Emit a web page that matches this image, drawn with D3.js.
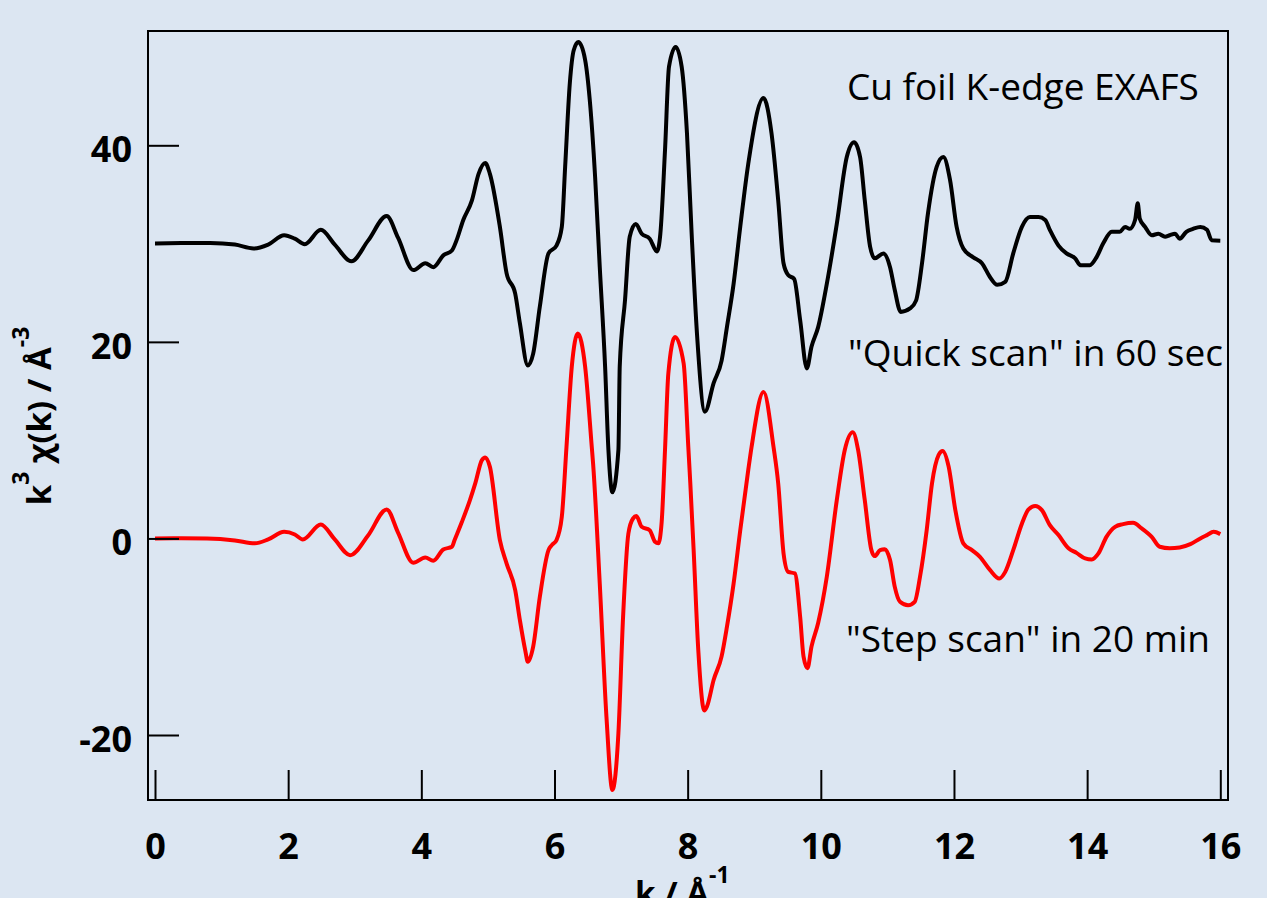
<!DOCTYPE html>
<meta charset="utf-8">
<title>Cu foil K-edge EXAFS</title>
<style type="text/css">
body {
  margin: 0;
  background: #dce6f2;
}
svg {
  display: block;
  font-family: "Open Sans", sans-serif;
}
.axis text {
  font-family: "Open Sans", sans-serif;
  font-size: 36px;
  font-weight: bold;
  fill: #000;
}
.axis line {
  stroke: #000;
  stroke-width: 2;
}
.note {
  font-size: 37px;
  fill: #000;
}
</style>
<script src="https://cdn.jsdelivr.net/npm/d3@7"></script>
<body>
<script>
var width = 1267;
var height = 898;
// plot frame
var frameL = 148, frameR = 1228, frameT = 31, frameB = 800;

var xTicks = [0, 2, 4, 6, 8, 10, 12, 14, 16];
var yTicks = [-20, 0, 20, 40];

// "Quick scan" in 60 sec (black, offset +30)
var quickK = [0, 0.4, 0.83, 1.2, 1.48, 1.7, 1.94, 2.1, 2.25, 2.49, 2.7, 2.95, 3.2, 3.48, 3.65, 3.88, 4.06, 4.18, 4.33, 4.46, 4.53, 4.63, 4.76, 4.86, 4.96, 5.03, 5.18, 5.28, 5.41, 5.48, 5.6, 5.68, 5.78, 5.91, 6.03, 6.11, 6.16, 6.23, 6.29, 6.36, 6.46, 6.53, 6.61, 6.68, 6.76, 6.81, 6.87, 6.96, 6.98, 7.06, 7.13, 7.22, 7.31, 7.43, 7.54, 7.59, 7.66, 7.72, 7.82, 7.91, 7.99, 8.06, 8.14, 8.26, 8.39, 8.51, 8.59, 8.69, 8.79, 8.91, 9.14, 9.26, 9.36, 9.44, 9.51, 9.6, 9.69, 9.79, 9.86, 9.96, 10.09, 10.24, 10.39, 10.5, 10.59, 10.66, 10.74, 10.81, 10.94, 11.04, 11.11, 11.2, 11.34, 11.43, 11.52, 11.61, 11.74, 11.84, 11.94, 12.04, 12.14, 12.29, 12.42, 12.54, 12.65, 12.77, 12.89, 13.02, 13.14, 13.27, 13.37, 13.44, 13.57, 13.69, 13.82, 13.9, 14.04, 14.14, 14.24, 14.37, 14.49, 14.57, 14.64, 14.72, 14.76, 14.79, 14.87, 14.97, 15.07, 15.17, 15.24, 15.32, 15.39, 15.49, 15.59, 15.7, 15.8, 15.87, 16.0];
var quickChi = [30.0, 30.05, 30.07, 29.9, 29.5, 29.9, 30.85, 30.5, 29.94, 31.4, 29.9, 28.2, 30.3, 32.8, 30.6, 27.3, 28.0, 27.6, 28.8, 29.3, 30.35, 32.4, 34.4, 37.1, 38.2, 37.1, 31.7, 27.0, 24.9, 21.9, 17.6, 18.8, 23.6, 29.0, 29.8, 31.7, 37.8, 46.3, 49.7, 50.5, 48.7, 44.6, 36.8, 27.6, 17.5, 9.0, 4.7, 9.0, 17.5, 24.3, 30.7, 32.0, 31.0, 30.5, 29.2, 31.0, 39.5, 48.0, 50.0, 48.0, 41.2, 31.0, 20.85, 12.9, 15.8, 18.1, 21.5, 25.9, 31.7, 38.1, 44.8, 41.2, 34.4, 28.0, 26.8, 26.4, 22.2, 17.3, 19.5, 21.5, 25.9, 32.0, 38.8, 40.3, 38.8, 34.4, 29.7, 28.5, 29.0, 27.6, 25.3, 23.05, 23.4, 24.2, 28.0, 33.1, 37.8, 38.8, 36.5, 31.7, 29.5, 28.6, 28.0, 26.6, 25.8, 26.1, 29.0, 31.7, 32.7, 32.7, 32.4, 31.4, 29.8, 29.0, 28.5, 27.8, 27.8, 28.6, 30.0, 31.2, 31.2, 31.7, 31.5, 32.4, 34.1, 32.55, 31.7, 30.85, 31.0, 30.7, 30.85, 31.0, 30.5, 31.2, 31.5, 31.7, 31.4, 30.35, 30.3];

// "Step scan" in 20 min (red)
var stepK = [0, 0.4, 0.78, 1.2, 1.5, 1.7, 1.94, 2.1, 2.22, 2.49, 2.7, 2.93, 3.2, 3.48, 3.65, 3.88, 4.06, 4.18, 4.33, 4.46, 4.5, 4.61, 4.73, 4.81, 4.91, 4.96, 5.03, 5.18, 5.28, 5.41, 5.48, 5.56, 5.6, 5.68, 5.78, 5.91, 5.96, 6.03, 6.11, 6.18, 6.26, 6.35, 6.46, 6.56, 6.58, 6.68, 6.78, 6.87, 6.96, 7.03, 7.11, 7.18, 7.23, 7.31, 7.43, 7.51, 7.56, 7.61, 7.66, 7.71, 7.81, 7.94, 8.01, 8.04, 8.09, 8.16, 8.25, 8.29, 8.39, 8.51, 8.59, 8.69, 8.79, 8.91, 8.96, 9.14, 9.29, 9.36, 9.44, 9.51, 9.61, 9.69, 9.74, 9.8, 9.86, 9.96, 10.09, 10.24, 10.36, 10.48, 10.56, 10.66, 10.76, 10.81, 10.89, 10.96, 11.04, 11.11, 11.19, 11.31, 11.41, 11.49, 11.59, 11.67, 11.77, 11.83, 11.92, 12.02, 12.14, 12.27, 12.39, 12.54, 12.68, 12.77, 12.89, 13.02, 13.12, 13.22, 13.32, 13.44, 13.57, 13.72, 13.84, 13.97, 14.07, 14.17, 14.29, 14.42, 14.54, 14.69, 14.82, 14.97, 15.09, 15.24, 15.39, 15.55, 15.7, 15.8, 15.9, 16.0];
var stepChi = [0, 0.02, 0.0, -0.2, -0.5, -0.1, 0.67, 0.4, -0.1, 1.42, -0.1, -1.7, 0.3, 2.95, 0.6, -2.48, -1.93, -2.27, -1.12, -0.85, -0.17, 1.69, 3.9, 5.6, 7.97, 8.24, 7.28, -0.17, -2.54, -5.26, -8.3, -11.36, -12.55, -11.0, -5.94, -1.19, -0.68, -0.17, 2.2, 9.3, 17.5, 20.85, 17.5, 9.3, 7.6, -4.6, -18.1, -25.6, -19.8, -8.0, 0.5, 2.03, 2.27, 1.18, 0.84, -0.34, -0.5, 1.69, 9.0, 16.8, 20.5, 17.8, 9.3, 5.6, -1.19, -11.4, -17.5, -17.1, -14.4, -12.0, -9.0, -4.6, 0.84, 6.95, 9.3, 14.9, 9.3, 5.6, -1.5, -3.4, -3.56, -8.0, -12.0, -13.2, -11.0, -8.6, -3.9, 3.9, 9.0, 10.8, 9.0, 3.9, -1.19, -1.8, -1.19, -1.1, -2.2, -4.9, -6.45, -6.8, -6.45, -3.9, 0.84, 5.6, 8.5, 8.9, 7.3, 2.9, -0.5, -1.19, -1.87, -3.2, -4.07, -3.4, -1.19, 1.5, 2.95, 3.29, 2.88, 1.35, 0.34, -1.0, -1.47, -2.03, -2.14, -1.53, 0.16, 1.18, 1.45, 1.59, 1.02, 0.16, -0.85, -1.0, -0.92, -0.58, 0.0, 0.34, 0.67, 0.44];

var svg = d3.select('body').append('svg').attr('width', width).attr('height', height);

var xScale = d3.scaleLinear().domain([0, 16]).range([155, 1220.3]);
var yScale = d3.scaleLinear().domain([-20, 40]).range([735, 145.3]);

var line = d3.line()
  .x(function(d) { return xScale(d[0]); })
  .y(function(d) { return yScale(d[1]); })
  .curve(d3.curveMonotoneX);

svg.append('path')
  .datum(d3.zip(quickK, quickChi))
  .attr('d', line)
  .attr('fill', 'none')
  .attr('stroke', '#000')
  .attr('stroke-width', 4)
  .attr('stroke-linejoin', 'round');

svg.append('path')
  .datum(d3.zip(stepK, stepChi))
  .attr('d', line)
  .attr('fill', 'none')
  .attr('stroke', '#ff0000')
  .attr('stroke-width', 4)
  .attr('stroke-linejoin', 'round');

// frame
svg.append('rect')
  .attr('x', frameL).attr('y', frameT)
  .attr('width', frameR - frameL).attr('height', frameB - frameT)
  .attr('fill', 'none')
  .attr('stroke', '#000')
  .attr('stroke-width', 2);

var xAxis = svg.append('g')
  .attr('class', 'axis')
  .attr('transform', 'translate(0,' + frameB + ')')
  .call(d3.axisBottom(xScale).tickValues(xTicks).tickSize(-30).tickPadding(33).tickFormat(function(d) { return String(d); }));
xAxis.select('.domain').remove();
xAxis.attr('font-family', null).attr('font-size', null);

var yAxis = svg.append('g')
  .attr('class', 'axis')
  .attr('transform', 'translate(' + frameL + ',0)')
  .call(d3.axisLeft(yScale).tickValues(yTicks).tickSize(-31).tickPadding(16).tickFormat(function(d) { return String(d); }));
yAxis.select('.domain').remove();
yAxis.attr('font-family', null).attr('font-size', null);
yAxis.selectAll('text').attr('dy', '0.45em');

// notes
svg.append('text').attr('class', 'note').attr('x', 847).attr('y', 100).text('Cu foil K-edge EXAFS');
svg.append('text').attr('class', 'note').attr('x', 848).attr('y', 366).text('"Quick scan" in 60 sec');
svg.append('text').attr('class', 'note').attr('x', 846).attr('y', 652).text('"Step scan" in 20 min');

// y label
var yl = svg.append('text')
  .attr('transform', 'translate(51,416) rotate(-90)')
  .attr('text-anchor', 'middle')
  .style('font-size', '33px')
  .style('font-weight', 'bold');
yl.append('tspan').text('k');
yl.append('tspan').attr('dy', -22).style('font-size', '23px').text('3');
yl.append('tspan').attr('dy', 22).text(' χ(k) / Å');
yl.append('tspan').attr('dy', -22).style('font-size', '23px').text('-3');

// x label (cut off by the bottom edge, as in the original)
var xl = svg.append('text')
  .attr('x', 635).attr('y', 905)
  .style('font-size', '33px')
  .style('font-weight', 'bold');
xl.append('tspan').text('k / Å');
xl.append('tspan').attr('dy', -22).style('font-size', '23px').text('-1');
</script>
</body>
</html>
